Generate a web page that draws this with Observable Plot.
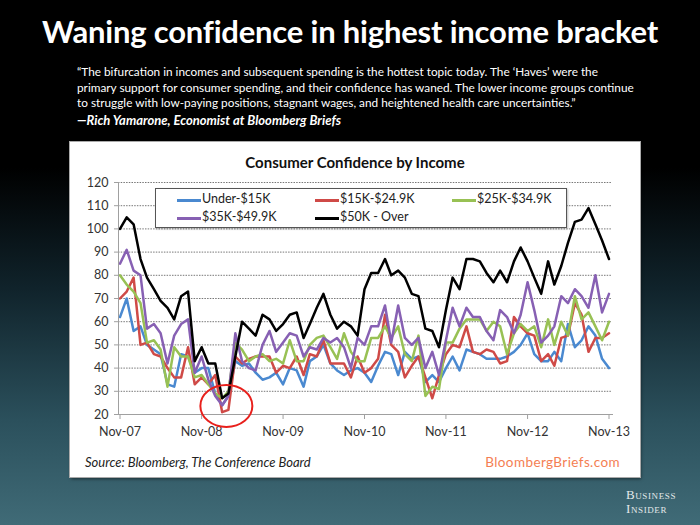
<!DOCTYPE html>
<html>
<head>
<meta charset="utf-8">
<script src="https://cdn.jsdelivr.net/npm/d3@7"></script>
<script src="https://cdn.jsdelivr.net/npm/@observablehq/plot@0.6"></script>
<style>
  html, body { margin: 0; padding: 0; }
  body {
    width: 700px; height: 525px; overflow: hidden; position: relative;
    background-color: #000;
    font-family: Lato, "Open Sans", sans-serif;
  }
  #bg { position: absolute; left: 0; top: 0; width: 700px; height: 525px;
    background: linear-gradient(180deg, #000 0%, #000 32%, #10232b 55%, #2b505c 80%, #406b77 100%); }
  #title { position: absolute; top: 12px; left: 0; width: 700px; text-align: center;
    color: #fff; font-weight: 700; font-size: 31px; letter-spacing: -0.2px; }
  #quote { position: absolute; left: 77px; top: 64px; color: #fff; font-size: 11.8px; line-height: 15.6px; }
  #author { position: absolute; left: 77px; top: 112px; color: #fff; font-size: 13px; font-style: italic; font-weight: 700; }
  #panel { position: absolute; left: 70px; top: 142px; width: 570px; height: 335px; background: #fff;
    box-shadow: 0 0 0 1px #aaa, 1px 2px 3px rgba(0,0,0,0.5); }
  #ptitle { position: absolute; top: 11px; left: 0; width: 570px; text-align: center; font-weight: 700; font-size: 15px; color: #111; }
  #legend { position: absolute; left: 85px; top: 46px; width: 410px; height: 38px; border: 1px solid #555; background: #fff;
    box-shadow: 1px 1px 2px rgba(0,0,0,0.25); }
  .li { position: absolute; font-size: 12.5px; color: #222; white-space: nowrap; }
  .li span.sw { position: absolute; left: -25px; top: 8px; width: 24px; height: 2.6px; }
  #source { position: absolute; left: 15px; top: 312px; font-size: 13px; font-style: italic; color: #222; }
  #bb { position: absolute; right: 20px; top: 312px; font-size: 13.5px; color: #f47e52; letter-spacing: 0.4px; }
  #bi { position: absolute; left: 626px; top: 488px; color: #e3e9ea; font-family: "Liberation Serif", "DejaVu Serif", serif;
    font-variant: small-caps; font-size: 13px; letter-spacing: 0.6px; text-align: left; }
  #bi div { height: 14px; line-height: 14px; }
  #plotwrap { position: absolute; left: 0; top: 0; }
</style>
</head>
<body>
<div id="bg"></div>
<div id="title">Waning confidence in highest income bracket</div>
<div id="quote">“The bifurcation in incomes and subsequent spending is the hottest topic today. The ‘Haves’ were the<br>primary support for consumer spending, and their confidence has waned. The lower income groups continue<br>to struggle with low-paying positions, stagnant wages, and heightened health care uncertainties.”</div>
<div id="author">—Rich Yamarone, Economist at Bloomberg Briefs</div>
<div id="panel">
  <div id="plotwrap"></div>
  <div id="ptitle">Consumer Confidence by Income</div>
  <div id="legend"></div>
  <div id="source">Source: Bloomberg, The Conference Board</div>
  <div id="bb">BloombergBriefs.com</div>
</div>
<div id="bi"><div>Business</div><div>Insider</div></div>
<script>
// ---- Data (monthly, Nov-07 .. Nov-13) ----
const seriesNames = ["Under-$15K", "$15K-$24.9K", "$25K-$34.9K", "$35K-$49.9K", "$50K - Over"];
const seriesColors = ["#4a89d0", "#cf4a47", "#98c154", "#8760b3", "#000000"];

const under15 = [62,70,56,58,50,48,46,33,32,46, 45,38,40,40,29,24,28,43,41,42, 38,35,36,38,33,40,39,32,43,45,
  50,42,39,37,39,40,38,34,41,47, 46,37,47,44,45,34,37,34,40,45, 39,48,47,46,44,44,44,45,47,50, 55,46,43,43,47,43,59,49,52,58, 54,44,40];
const k15to25 = [70,73,79,50,51,46,45,40,36,36, 49,33,36,33,37,21,22,45,42,44, 45,45,45,38,41,40,45,37,46,45,
  52,42,42,42,36,45,38,40,44,63, 50,47,36,41,45,36,27,37,46,50, 49,58,47,46,48,47,42,43,62,58, 55,54,43,46,41,53,54,68,63,47, 53,53,55];
const k25to35 = [80,76,73,68,51,52,48,32,49,45, 45,36,37,33,29,27,30,51,48,43, 45,46,43,44,42,52,43,43,50,53,
  54,49,44,55,47,43,43,53,53,58, 53,58,46,43,54,28,32,31,51,51, 57,61,61,61,56,60,58,46,55,59, 56,58,49,61,50,60,54,71,61,64, 58,52,60];
const k35to50 = [85,91,82,80,57,59,55,42,54,59, 61,38,45,35,28,24,28,55,43,40, 39,50,56,47,51,55,54,45,49,48,
  53,51,53,49,40,53,50,58,58,67, 51,67,53,50,53,40,47,37,52,66, 58,66,62,62,56,52,65,62,55,63, 77,65,51,54,58,71,68,74,71,66, 80,64,72];
const k50over = [100,105,102,87,79,74,69,66,61,71, 73,43,49,42,42,27,29,45,60,57, 54,63,61,56,59,63,64,53,59,66,
  72,63,57,60,58,54,74,81,81,87, 80,82,79,72,71,57,56,49,65,79, 74,87,87,86,81,77,82,77,86,92, 86,79,72,86,76,84,94,103,104,109, 102,95,87];

const yTicks = [20,30,40,50,60,70,80,90,100,110,120];
const xTickLabels = ["Nov-07","Nov-08","Nov-09","Nov-10","Nov-11","Nov-12","Nov-13"];

// ---- Build table ----
const start = new Date(Date.UTC(2007, 10, 1));
const months = d3.utcMonths(start, new Date(Date.UTC(2013, 11, 1)));
const allSeries = [under15, k15to25, k25to35, k35to50, k50over];
const rows = allSeries.map((vals, si) => vals.map((v, i) => ({series: seriesNames[si], date: months[i], value: v})));
const xTicks = xTickLabels.map((_, i) => new Date(Date.UTC(2007 + i, 10, 1)));

const plot = Plot.plot({
  width: 570,
  height: 335,
  marginLeft: 48,
  marginRight: 28,
  marginTop: 40,
  marginBottom: 63,
  style: {fontFamily: "Lato, sans-serif", fontSize: "12.5px", color: "#333", background: "transparent", overflow: "visible"},
  x: {type: "utc", domain: [xTicks[0], xTicks[xTicks.length - 1]], range: [49.5, 538.5]},
  y: {domain: [20, 120], range: [272, 40]},
  marks: [
    Plot.ruleY(yTicks.slice(1), {stroke: "#777", strokeWidth: 1, strokeDasharray: "1.5,1.2"}),
    ...allSeries.map((_, si) => Plot.line(rows[si], {x: "date", y: "value", stroke: seriesColors[si], strokeWidth: 2.5, strokeLinejoin: "round"})),
    Plot.frame({anchor: "left", stroke: "#a0a0a0"}),
    Plot.frame({anchor: "bottom", stroke: "#a0a0a0"}),
    Plot.axisY({ticks: yTicks, tickSize: 4, tickPadding: 6, stroke: "#a0a0a0", label: null, fill: "#333", fontSize: 12.5}),
    Plot.axisX({ticks: xTicks, tickSize: 5, tickPadding: 8, stroke: "#a0a0a0", label: null, fill: "#333", fontSize: 12.5,
      tickFormat: (d) => xTickLabels[xTicks.findIndex(t => +t === +d)]})
  ]
});
document.getElementById("plotwrap").appendChild(plot);

// red circle annotation around the early-2009 trough
const xs = plot.scale("x"), ys = plot.scale("y");
d3.select(plot).append("ellipse")
  .attr("cx", xs.apply(new Date(Date.UTC(2009, 1, 22))))
  .attr("cy", ys.apply(23.5))
  .attr("rx", 26).attr("ry", 21)
  .attr("fill", "none").attr("stroke", "#e8201c").attr("stroke-width", 2);

// legend
const legend = document.getElementById("legend");
const pos = [[46, 2], [184, 2], [321, 2], [46, 20], [184, 20]];
seriesNames.forEach((n, i) => {
  const d = document.createElement("div");
  d.className = "li";
  d.style.left = pos[i][0] + "px";
  d.style.top = pos[i][1] + "px";
  d.innerHTML = `<span class="sw" style="background:${seriesColors[i]}"></span>${n}`;
  legend.appendChild(d);
});
</script>
</body>
</html>
